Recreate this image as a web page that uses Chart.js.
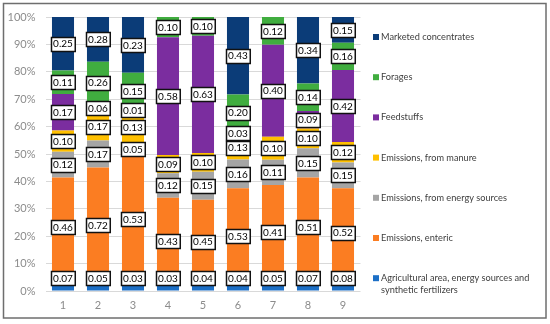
<!DOCTYPE html>
<html>
<head>
<meta charset="utf-8">
<script src="https://cdn.jsdelivr.net/npm/chart.js@4.4.1/dist/chart.umd.min.js"></script>
<style>
html,body{margin:0;padding:0;background:#fff;}
canvas{display:block;}
</style>
</head>
<body>
<canvas id="c" width="550" height="324"></canvas>
<script>
const categories = ['1','2','3','4','5','6','7','8','9'];
const seriesNames = [
  'Agricultural area, energy sources and synthetic fertilizers',
  'Emissions, enteric',
  'Emissions, from energy sources',
  'Emissions, from manure',
  'Feedstuffs',
  'Forages',
  'Marketed concentrates'
];
const agri     = [0.07,0.05,0.03,0.03,0.04,0.04,0.05,0.07,0.08];
const enteric  = [0.46,0.72,0.53,0.43,0.45,0.53,0.41,0.51,0.52];
const energy   = [0.12,0.17,0.05,0.12,0.15,0.16,0.11,0.15,0.15];
const manure   = [0.10,0.17,0.13,0.09,0.10,0.13,0.10,0.10,0.12];
const feed     = [0.17,0.06,0.01,0.58,0.63,0.03,0.40,0.09,0.42];
const forages  = [0.11,0.26,0.15,0.10,0.10,0.20,0.12,0.14,0.16];
const marketed = [0.25,0.28,0.23,0,0,0.43,0,0.34,0.15];
const yTicks = [0,10,20,30,40,50,60,70,80,90,100];

const colors = ['#1C6FC6','#FB7D22','#A5A5A5','#FFC000','#7B2D9F','#40AD3F','#0B3C78'];
const series = [agri, enteric, energy, manure, feed, forages, marketed];

const totals = categories.map((_, j) => series.reduce((s, arr) => s + arr[j], 0));

const datasets = series.map((arr, i) => ({
  label: seriesNames[i],
  raw: arr,
  data: arr.map((v, j) => v / totals[j] * 100),
  backgroundColor: colors[i],
  borderWidth: 0,
  barPercentage: 0.63,
  categoryPercentage: 1.0
}));

const FONT = "Lato, 'Liberation Sans', sans-serif";

const framePlugin = {
  id: 'frame',
  beforeDraw(chart) {
    const ctx = chart.ctx;
    ctx.save();
    ctx.fillStyle = '#fff';
    ctx.fillRect(0, 0, chart.width, chart.height);
    ctx.strokeStyle = '#6E6E6E';
    ctx.lineWidth = 1.5;
    ctx.strokeRect(3.5, 3.5, 542.5, 314.5);
    ctx.restore();
  }
};

const labelPlugin = {
  id: 'boxLabels',
  afterDatasetsDraw(chart) {
    const ctx = chart.ctx;
    const area = chart.chartArea;
    ctx.save();
    ctx.font = '10px ' + FONT;
    ctx.textAlign = 'center';
    ctx.textBaseline = 'middle';
    chart.data.datasets.forEach((ds, i) => {
      const meta = chart.getDatasetMeta(i);
      meta.data.forEach((el, j) => {
        const v = ds.raw[j];
        if (!v) return;
        const txt = v.toFixed(2);
        const w = ctx.measureText(txt).width + 4;
        const h = 14;
        let cy = (el.y + el.base) / 2;
        cy = Math.min(cy, area.bottom - h / 2 - 6);
        const x = Math.round(el.x - w / 2) + 0.5;
        const y = Math.round(cy - h / 2) + 0.5;
        ctx.fillStyle = '#fff';
        ctx.fillRect(x, y, w, h);
        ctx.strokeStyle = '#111';
        ctx.lineWidth = 1.5;
        ctx.strokeRect(x, y, w, h);
        ctx.fillStyle = '#000';
        ctx.fillText(txt, el.x, cy + 0.5);
      });
    });
    ctx.restore();
  }
};

const legendPlugin = {
  id: 'sideLegend',
  afterDraw(chart) {
    const ctx = chart.ctx;
    ctx.save();
    ctx.font = '9.2px ' + FONT;
    ctx.textBaseline = 'middle';
    ctx.textAlign = 'left';
    const x0 = 373, tx = 381, y0 = 37, step = 40.2;
    const items = chart.data.datasets.map((d, i) => ({name: d.label, color: d.backgroundColor})).reverse();
    items.forEach((it, k) => {
      const cy = y0 + k * step;
      ctx.fillStyle = it.color;
      ctx.fillRect(x0, cy - 3, 6, 6);
      ctx.fillStyle = '#404040';
      if (it.name.length > 40) {
        const cut = it.name.lastIndexOf(' ', it.name.indexOf('synthetic'));
        ctx.fillText(it.name.slice(0, cut), tx, cy);
        ctx.fillText(it.name.slice(cut + 1), tx, cy + 12);
      } else {
        ctx.fillText(it.name, tx, cy);
      }
    });
    ctx.restore();
  }
};

new Chart(document.getElementById('c'), {
  type: 'bar',
  data: { labels: categories, datasets },
  options: {
    responsive: false,
    animation: false,
    devicePixelRatio: 1,
    layout: { padding: { left: 0, right: 189.5, top: 17, bottom: 0 } },
    plugins: { legend: { display: false }, tooltip: { enabled: false } },
    scales: {
      x: {
        stacked: true,
        grid: { display: false, drawTicks: false },
        border: { display: false },
        ticks: { color: '#8C8C8C', font: { family: FONT, size: 11 }, padding: 8 },
        afterFit(s) { s.height = 33; }
      },
      y: {
        stacked: true,
        min: 0, max: 100,
        afterBuildTicks(s) { s.ticks = yTicks.map(v => ({ value: v })); },
        grid: { color: '#D9D9D9', drawTicks: false, lineWidth: 1 },
        border: { display: false },
        ticks: { color: '#8C8C8C', font: { family: FONT, size: 11 }, padding: 10, callback: v => v + '%' },
        afterFit(s) { s.width = 45.5; }
      }
    }
  },
  plugins: [framePlugin, labelPlugin, legendPlugin]
});
</script>
</body>
</html>
